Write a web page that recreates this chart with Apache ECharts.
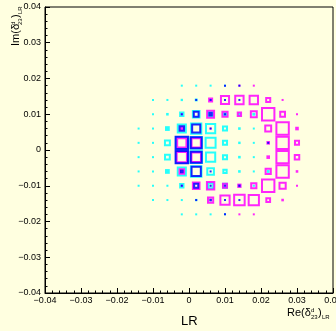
<!DOCTYPE html>
<html><head><meta charset="utf-8">
<script src="https://cdn.jsdelivr.net/npm/echarts@6/dist/echarts.min.js"></script>
<style>html,body{margin:0;padding:0;background:#ffffe0}#c{width:336px;height:331px}</style>
</head><body><div id="c"></div>
<script>
// bin centres (bin width 0.004)
const xCenters = [-0.014,-0.010,-0.006,-0.002,0.002,0.006,0.010,0.014,0.018,0.022,0.026,0.030];
const yCenters = [0.018,0.014,0.010,0.006,0.002,-0.002,-0.006,-0.010,-0.014,-0.018];
const binWidth = 0.004;
// box side in % of a bin, one row per yCenters entry
const cyanSizes = [
  [0, 0, 0, 14, 14, 14, 14, 0, 0, 0, 0, 0],
  [0, 8, 14, 16, 20, 12, 0, 0, 0, 0, 0, 0],
  [0, 14, 18, 37, 60, 45, 30, 20, 20, 0, 0, 0],
  [7, 14, 33, 70, 85, 78, 42, 18, 12, 0, 0, 0],
  [14, 14, 48, 95, 95, 83, 42, 17, 12, 0, 0, 0],
  [12, 14, 47, 95, 95, 78, 42, 18, 12, 0, 0, 0],
  [9, 12, 33, 70, 87, 60, 37, 18, 14, 20, 0, 0],
  [7, 9, 14, 37, 0, 50, 40, 22, 15, 0, 0, 0],
  [0, 7, 12, 14, 16, 0, 0, 0, 0, 0, 0, 0],
  [0, 0, 0, 12, 12, 12, 10, 0, 0, 0, 0, 0]
];
const blueSizes = [
  [0, 0, 0, 0, 0, 0, 8, 10, 0, 0, 0, 0],
  [0, 0, 0, 0, 8, 10, 12, 8, 0, 0, 0, 0],
  [0, 0, 0, 10, 47, 30, 15, 0, 0, 0, 0, 0],
  [0, 0, 0, 45, 70, 10, 0, 0, 0, 0, 0, 0],
  [0, 0, 0, 100, 90, 0, 0, 0, 0, 12, 0, 0],
  [0, 0, 0, 100, 90, 0, 0, 0, 0, 0, 0, 0],
  [0, 0, 0, 25, 78, 10, 0, 0, 0, 0, 0, 0],
  [0, 0, 0, 10, 42, 15, 12, 15, 0, 0, 0, 0],
  [0, 0, 0, 0, 12, 18, 12, 10, 0, 0, 0, 0],
  [0, 0, 0, 0, 0, 0, 8, 0, 0, 0, 0, 0]
];
const magentaSizes = [
  [0, 0, 0, 0, 0, 0, 0, 10, 14, 0, 0, 0],
  [0, 0, 0, 0, 0, 35, 70, 72, 72, 42, 14, 0],
  [0, 0, 0, 12, 0, 62, 50, 37, 55, 100, 47, 14],
  [0, 0, 0, 25, 0, 10, 0, 0, 0, 55, 100, 25],
  [0, 0, 0, 78, 78, 0, 0, 0, 0, 25, 100, 42],
  [0, 0, 0, 85, 80, 0, 0, 0, 0, 25, 100, 45],
  [0, 0, 0, 45, 0, 0, 0, 0, 0, 50, 100, 18],
  [0, 0, 0, 12, 60, 65, 42, 30, 50, 100, 57, 12],
  [0, 0, 0, 0, 0, 50, 78, 87, 85, 40, 18, 0],
  [0, 0, 0, 0, 0, 0, 0, 14, 12, 0, 0, 0]
];

function toData(m) {
  const out = [];
  m.forEach((row, r) => row.forEach((v, c) => { if (v > 0) out.push([xCenters[c], yCenters[r], v]); }));
  return out;
}
function boxRender(color) {
  return function (params, api) {
    const p = api.coord([api.value(0), api.value(1)]);
    const cell = api.size([binWidth, binWidth]);
    const s = Math.max(2, api.value(2) / 100 * cell[0]);
    const lw = 2;
    if (s <= 2 * lw + 1) {
      return { type: 'rect', shape: { x: p[0] - s / 2, y: p[1] - s / 2, width: s, height: s },
        style: { fill: color, opacity: 0.85 } };
    }
    return { type: 'rect', shape: { x: p[0] - s / 2 + lw / 2, y: p[1] - s / 2 + lw / 2, width: s - lw, height: s - lw },
      style: { fill: 'none', stroke: color, lineWidth: lw, opacity: 0.85 } };
  };
}
function fmt(v) {
  if (Math.abs(v) < 1e-9) return '0';
  const s = Math.abs(v).toFixed(2);
  return (v < 0 ? '\u2212' : '') + s;
}
const chart = echarts.init(document.getElementById('c'));
const F = 'Liberation Sans, Arial, sans-serif';
function axisCommon() {
  return {
    type: 'value', min: -0.04, max: 0.04, interval: 0.01,
    axisLine: { show: true, onZero: false, lineStyle: { color: '#000', width: 1 } },
    axisTick: { show: true, inside: true, length: 5, lineStyle: { color: '#000' } },
    minorTick: { show: true, splitNumber: 5, length: 2.5, lineStyle: { color: '#000' } },
    splitLine: { show: false },
    axisLabel: { color: '#000', fontSize: 9, fontFamily: F, formatter: fmt, hideOverlap: false, showMinLabel: true, showMaxLabel: true }
  };
}
const xa = axisCommon(); xa.axisLabel.margin = 3;
const ya = axisCommon(); ya.axisLabel.margin = 4;
const colors = ['#00ffff', '#ff00ff', '#0000ff'];
const mats = [cyanSizes, magentaSizes, blueSizes];
chart.setOption({
  backgroundColor: '#ffffe0',
  animation: false,
  grid: { left: 45, right: 3, top: 7, bottom: 38, containLabel: false, outerBoundsMode: 'none',
    show: true, borderColor: '#000', borderWidth: 1, backgroundColor: 'transparent' },
  xAxis: xa,
  yAxis: ya,
  series: mats.map((m, i) => ({
    type: 'custom', renderItem: boxRender(colors[i]), data: toData(m), clip: true
  })),
  graphic: [
    { type: 'text', left: 181, top: 315, style: { text: 'LR', fontSize: 13, fontFamily: F, fill: '#000' } },
    { type: 'group', x: 287, y: 318, children: [
      { type: 'text', x: 0, y: 0, style: { text: 'Re(\u03b4', fontSize: 11, fontFamily: F, fill: '#000', textVerticalAlign: 'bottom' } },
      { type: 'text', x: 24, y: -5, style: { text: 'd', fontSize: 6, fontFamily: F, fill: '#000', textVerticalAlign: 'bottom' } },
      { type: 'text', x: 24, y: 2, style: { text: '23', fontSize: 6, fontFamily: F, fill: '#000', textVerticalAlign: 'bottom' } },
      { type: 'text', x: 31, y: 0, style: { text: ')', fontSize: 11, fontFamily: F, fill: '#000', textVerticalAlign: 'bottom' } },
      { type: 'text', x: 35, y: 2, style: { text: 'LR', fontSize: 6, fontFamily: F, fill: '#000', textVerticalAlign: 'bottom' } }
    ] },
    { type: 'group', x: 21, y: 46, rotation: Math.PI / 2, children: [
      { type: 'text', x: 0, y: 0, style: { text: 'Im(\u03b4', fontSize: 11, fontFamily: F, fill: '#000', textVerticalAlign: 'bottom' } },
      { type: 'text', x: 21, y: -5, style: { text: 'd', fontSize: 6, fontFamily: F, fill: '#000', textVerticalAlign: 'bottom' } },
      { type: 'text', x: 21, y: 2, style: { text: '23', fontSize: 6, fontFamily: F, fill: '#000', textVerticalAlign: 'bottom' } },
      { type: 'text', x: 28, y: 0, style: { text: ')', fontSize: 11, fontFamily: F, fill: '#000', textVerticalAlign: 'bottom' } },
      { type: 'text', x: 32, y: 2, style: { text: 'LR', fontSize: 6, fontFamily: F, fill: '#000', textVerticalAlign: 'bottom' } }
    ] }
  ]
});
</script></body></html>
